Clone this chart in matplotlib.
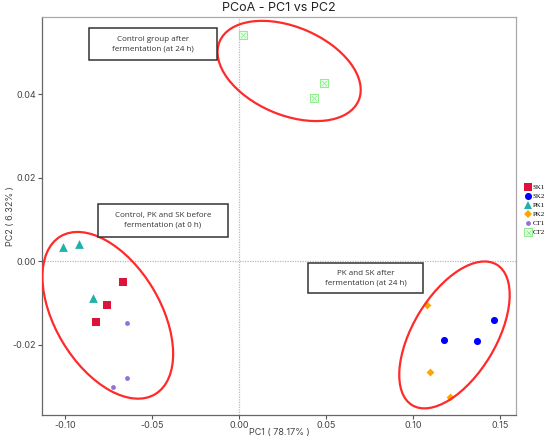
import numpy as np
import matplotlib
matplotlib.use("Agg")
import matplotlib.pyplot as plt
from matplotlib.patches import Ellipse, Rectangle
from matplotlib.transforms import ScaledTranslation
from matplotlib.lines import Line2D

# sample scores
groups = ["SK1", "SK2", "PK1", "PK2", "CT1", "CT2"]
pc1 = {
    "SK1": [-0.0667, -0.0760, -0.0822],
    "SK2": [0.1176, 0.1364, 0.1466],
    "PK1": [-0.1011, -0.0923, -0.0839],
    "PK2": [0.1079, 0.1098, 0.1211],
    "CT1": [-0.0644, -0.0644, -0.0728],
    "CT2": [0.0020, 0.0487, 0.0431],
}
pc2 = {
    "SK1": [-0.0050, -0.0106, -0.0146],
    "SK2": [-0.0190, -0.0192, -0.0141],
    "PK1": [0.0033, 0.0041, -0.0089],
    "PK2": [-0.0106, -0.0265, -0.0325],
    "CT1": [-0.0149, -0.0281, -0.0301],
    "CT2": [0.0542, 0.0427, 0.0391],
}
x_ticks = [-0.10, -0.05, 0.00, 0.05, 0.10, 0.15]
y_ticks = [-0.02, 0.00, 0.02, 0.04]

box_labels = [
    "Control group after\nfermentation (at 24 h)",
    "Control, PK and SK before\nfermentation (at 0 h)",
    "PK and SK after\nfermentation (at 24 h)",
]

# style
colors = {"SK1": "#dc143c", "SK2": "#0000ff", "PK1": "#20b2aa",
          "PK2": "#ffa500", "CT1": "#9370db", "CT2": "#90ee90"}
markers = {"SK1": "s", "SK2": "o", "PK1": "^", "PK2": "D", "CT1": "o", "CT2": "s"}
sizes = {"SK1": 26, "SK2": 26, "PK1": 40, "PK2": 16, "CT1": 12, "CT2": 26}

fig = plt.figure(figsize=(5.5, 4.41), dpi=100)
ax = fig.add_axes([0.077, 0.059, 0.861, 0.903])

handles = []
for g in groups:
    if g == "CT2":
        ax.scatter(pc1[g], pc2[g], marker="s", s=sizes[g], facecolor="#eaffea",
                   edgecolor=colors[g], linewidth=0.8, zorder=3)
        ax.scatter(pc1[g], pc2[g], marker="x", s=sizes[g] * 0.5, color=colors[g],
                   linewidth=0.6, zorder=4)
        h = (Line2D([], [], marker="s", ls="", markersize=5.2, markerfacecolor="#eaffea",
                    markeredgecolor=colors[g], markeredgewidth=0.8),
             Line2D([], [], marker="x", ls="", markersize=3.6, color=colors[g],
                    markeredgewidth=0.6))
    else:
        ax.scatter(pc1[g], pc2[g], marker=markers[g], s=sizes[g], color=colors[g],
                   linewidth=0, zorder=3)
        h = Line2D([], [], marker=markers[g], ls="", markersize=np.sqrt(sizes[g]),
                   color=colors[g], markeredgewidth=0)
    handles.append(h)

ax.axvline(0, color="#bbbbbb", lw=0.9, ls=(0, (1, 1)), zorder=1)
ax.axhline(0, color="#bbbbbb", lw=0.9, ls=(0, (1, 1)), zorder=1)

# group ellipses: center in data, size in inches
ellipses = [((0.0286, 0.0456), 1.51, 0.88, -23),
            ((-0.0756, -0.0130), 1.84, 1.05, -59),
            ((0.1236, -0.0177), 1.64, 0.83, 59)]
for (cx, cy), w, hgt, ang in ellipses:
    tr = fig.dpi_scale_trans + ScaledTranslation(cx, cy, ax.transData)
    ax.add_patch(Ellipse((0, 0), w, hgt, angle=ang, transform=tr, fill=False,
                         edgecolor="#ff2a2a", lw=1.6, zorder=5))

# text boxes (data coords)
boxes = [(-0.0864, 0.0482, 0.0734, 0.0078),
         (-0.0814, 0.00583, 0.0747, 0.00784),
         (0.0393, -0.00775, 0.0664, 0.0072)]
for (bx, by, bw, bh), lab in zip(boxes, box_labels):
    ax.add_patch(Rectangle((bx, by), bw, bh, fill=True, facecolor="white",
                           edgecolor="#333333", lw=1.1, zorder=6))
    ax.text(bx + bw / 2, by + bh / 2, lab, ha="center", va="center",
            fontsize=5.8, family="Open Sans", color="#333333",
            linespacing=1.5, zorder=7)

ax.set_xlim(-0.1132, 0.1589)
ax.set_ylim(-0.0369, 0.0586)
ax.set_xticks(x_ticks)
ax.set_yticks(y_ticks)
ax.set_xticklabels([f"{t:.2f}" for t in x_ticks])
ax.set_yticklabels([f"{t:.2f}" for t in y_ticks])
ax.tick_params(labelsize=6.5, colors="#555555", length=3, width=0.8, pad=1.5)
for lab in ax.get_xticklabels() + ax.get_yticklabels():
    lab.set_family("Inter")
    lab.set_color("#444444")
for s in ax.spines.values():
    s.set_color("#aaaaaa")
    s.set_linewidth(0.9)
ax.spines["left"].set_color("#666666")
ax.spines["bottom"].set_color("#666666")

ax.set_xlabel("PC1 ( 78.17% )", fontsize=6.5, family="Inter", color="#444444")
ax.set_ylabel("PC2 ( 6.32% )", fontsize=6.5, family="Inter", color="#444444")
ax.xaxis.set_label_coords(0.5, -0.033)
ax.yaxis.set_label_coords(-0.057, 0.5)
ax.set_title("PCoA - PC1 vs PC2", fontsize=9, family="Inter", color="#222222", pad=4)

fig.legend(handles, groups, loc="upper left", bbox_to_anchor=(0.948, 0.588),
           frameon=False, prop={"family": "Liberation Serif", "size": 5},
           handletextpad=0.2, labelspacing=0.45, handlelength=1.0, borderaxespad=0)

fig.savefig("out.png", dpi=100)
